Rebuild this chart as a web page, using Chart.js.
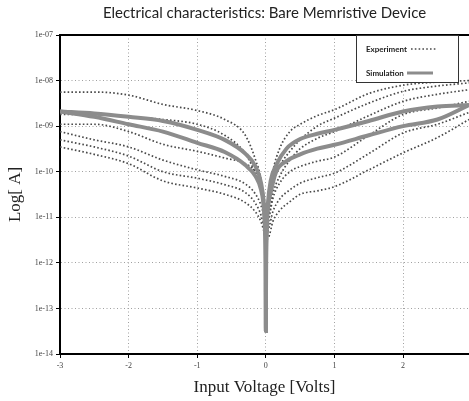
<!DOCTYPE html>
<html>
<head>
<meta charset="utf-8">
<title>Electrical characteristics: Bare Memristive Device</title>
<script src="https://cdn.jsdelivr.net/npm/chart.js@4.4.0/dist/chart.umd.min.js"></script>
<style>
  html, body { margin: 0; padding: 0; background: #fff; }
  #wrap { position: relative; width: 469px; height: 401px; }
</style>
</head>
<body>
<div id="wrap"><canvas id="ivChart"></canvas></div>
<script>
const titleText = "Electrical characteristics: Bare Memristive Device";
const xTicks = [-3, -2, -1, 0, 1, 2];
const yTicks = [1e-14, 1e-13, 1e-12, 1e-11, 1e-10, 1e-9, 1e-8, 1e-7];

// measured sweeps (current in A), all on the same voltage grid
const voltage = [-3, -2.5, -2, -1.5, -1, -0.6, -0.3, -0.15, -0.07, -0.03, 0,
                 0.05, 0.1, 0.2, 0.35, 0.5, 0.75, 1, 1.5, 2, 2.5, 2.96];
const exp1 = [5.6e-9, 5.6e-9, 4.8e-9, 3.0e-9, 2.2e-9, 1.4e-9, 6.3e-10, 1.8e-10, 6.3e-11, 1.6e-11, 5.0e-12,
              3.2e-11, 1.0e-10, 3.2e-10, 7.6e-10, 1.1e-9, 1.7e-9, 2.3e-9, 5.2e-9, 7.9e-9, 9.3e-9, 1.0e-8];
const exp2 = [1.8e-9, 1.8e-9, 1.6e-9, 1.4e-9, 1.1e-9, 6.3e-10, 2.5e-10, 8.9e-11, 4.0e-11, 1.3e-11, 4.0e-12,
              2.0e-11, 5.0e-11, 1.3e-10, 2.8e-10, 5.0e-10, 1.0e-9, 1.5e-9, 3.2e-9, 5.8e-9, 7.6e-9, 8.9e-9];
const exp3 = [1.1e-9, 1.1e-9, 7.6e-10, 4.0e-10, 2.8e-10, 2.0e-10, 1.5e-10, 1.0e-10, 5.6e-11, 2.0e-11, 6.3e-12,
              1.3e-11, 3.2e-11, 7.9e-11, 1.8e-10, 3.2e-10, 5.4e-10, 7.6e-10, 1.7e-9, 3.5e-9, 5.0e-9, 6.3e-9];
const exp4 = [7.6e-10, 5.0e-10, 3.5e-10, 1.8e-10, 1.1e-10, 7.9e-11, 5.4e-11, 3.2e-11, 1.8e-11, 1.0e-11, 3.2e-12,
              1.0e-11, 2.5e-11, 5.6e-11, 1.0e-10, 1.3e-10, 1.7e-10, 2.1e-10, 6.3e-10, 1.8e-9, 2.5e-9, 3.5e-9];
const exp5 = [5.0e-10, 3.5e-10, 2.2e-10, 1.0e-10, 7.2e-11, 5.2e-11, 3.5e-11, 2.0e-11, 1.1e-11, 6.3e-12, 4.0e-12,
              6.3e-12, 1.3e-11, 2.5e-11, 4.0e-11, 5.6e-11, 7.4e-11, 9.3e-11, 2.5e-10, 7.1e-10, 1.1e-9, 2.0e-9];
const exp6 = [3.5e-10, 2.4e-10, 1.5e-10, 6.3e-11, 4.4e-11, 3.2e-11, 2.1e-11, 1.3e-11, 7.9e-12, 5.0e-12, 3.2e-12,
              4.0e-12, 7.9e-12, 1.4e-11, 2.2e-11, 3.2e-11, 3.8e-11, 4.7e-11, 1.1e-10, 2.6e-10, 5.6e-10, 1.4e-9];

// simulated loop (two branches)
const simVoltage = [-3, -2.5, -2, -1.5, -1, -0.6, -0.3, -0.15, -0.07, -0.03, -0.01, -0.003, 0,
                    0.003, 0.01, 0.03, 0.07, 0.15, 0.3, 0.5, 0.75, 1, 1.5, 2, 2.5, 2.96];
const simUpper = [2.1e-9, 1.9e-9, 1.6e-9, 1.3e-9, 8.3e-10, 5.0e-10, 2.5e-10, 1.3e-10, 5.6e-11, 2.0e-11, 5.0e-12, 1.0e-12, 3.2e-14,
                  1.0e-12, 5.0e-12, 2.0e-11, 6.3e-11, 1.4e-10, 3.2e-10, 5.2e-10, 6.8e-10, 8.3e-10, 1.3e-9, 2.1e-9, 2.7e-9, 2.9e-9];
const simLower = [2.1e-9, 1.6e-9, 1.1e-9, 7.6e-10, 4.3e-10, 2.7e-10, 1.4e-10, 7.9e-11, 4.0e-11, 1.6e-11, 4.0e-12, 7.9e-13, 3.2e-14,
                  7.9e-13, 4.0e-12, 1.6e-11, 3.5e-11, 1.0e-10, 1.7e-10, 2.4e-10, 3.2e-10, 3.9e-10, 6.3e-10, 1.0e-9, 1.4e-9, 2.9e-9];

const expColor = '#4a4a4a';
const simColor = '#8c8c8c';
const expDash = [1.6, 2.2];

function pairs(xs, ys) {
    return xs.map((x, i) => ({ x: x, y: ys[i] }));
}

function simSet(values) {
    return {
        label: 'Simulation',
        data: pairs(simVoltage, values),
        borderColor: simColor,
        borderWidth: 4,
        pointRadius: 0,
        cubicInterpolationMode: 'monotone',
        fill: false
    };
}

function expSet(values) {
    return {
        label: 'Experiment',
        data: pairs(voltage, values),
        borderColor: expColor,
        borderWidth: 1.7,
        borderDash: expDash,
        pointRadius: 0,
        cubicInterpolationMode: 'monotone',
        fill: false
    };
}

// title centred over the plot area, top frame line, boxed legend
const decorations = {
    id: 'decorations',
    afterDraw(chart) {
        const { ctx, chartArea } = chart;
        ctx.save();
        ctx.fillStyle = '#222';
        ctx.font = '15px Lato';
        ctx.textAlign = 'center';
        ctx.textBaseline = 'middle';
        ctx.fillText(titleText, (chartArea.left + chartArea.right) / 2, 13);

        ctx.strokeStyle = '#000';
        ctx.lineWidth = 2;
        ctx.beginPath();
        ctx.moveTo(chartArea.left, chartArea.top);
        ctx.lineTo(chartArea.right, chartArea.top);
        ctx.stroke();

        const bx = chartArea.right - 113, by = chartArea.top, bw = 102, bh = 47;
        ctx.fillStyle = '#fff';
        ctx.fillRect(bx, by, bw, bh);
        ctx.strokeStyle = '#333';
        ctx.lineWidth = 1;
        ctx.strokeRect(bx + 0.5, by + 0.5, bw, bh);

        ctx.fillStyle = '#222';
        ctx.font = 'bold 8px Lato';
        ctx.textAlign = 'left';
        ctx.fillText('Experiment', bx + 10, by + 14);
        ctx.fillText('Simulation', bx + 10, by + 38);

        ctx.strokeStyle = expColor;
        ctx.lineWidth = 1.7;
        ctx.setLineDash(expDash);
        ctx.beginPath();
        ctx.moveTo(bx + 55, by + 14);
        ctx.lineTo(bx + 81, by + 14);
        ctx.stroke();
        ctx.setLineDash([]);

        ctx.strokeStyle = simColor;
        ctx.lineWidth = 3;
        ctx.beginPath();
        ctx.moveTo(bx + 51, by + 38);
        ctx.lineTo(bx + 77, by + 38);
        ctx.stroke();
        ctx.restore();
    }
};

const tickFont = { family: 'Liberation Serif', size: 8 };

new Chart(document.getElementById('ivChart'), {
    type: 'line',
    data: {
        datasets: [
            simSet(simUpper),
            simSet(simLower),
            expSet(exp1), expSet(exp2), expSet(exp3),
            expSet(exp4), expSet(exp5), expSet(exp6)
        ]
    },
    options: {
        responsive: true,
        maintainAspectRatio: false,
        animation: false,
        layout: { padding: { top: 35, left: 0, right: 0, bottom: 0 } },
        plugins: {
            legend: { display: false },
            title: { display: false },
            tooltip: { enabled: false }
        },
        scales: {
            x: {
                type: 'linear',
                min: -3,
                max: 2.96,
                afterBuildTicks: s => { s.ticks = xTicks.map(v => ({ value: v })); },
                afterFit: s => { s.height = 47; },
                ticks: {
                    font: tickFont, color: '#444', padding: 3, maxRotation: 0,
                    callback: v => String(v)
                },
                grid: { color: '#a0a0a0', lineWidth: 1, tickLength: 4, tickColor: '#000' },
                border: { color: '#000', width: 2, dash: [1, 2.5] },
                title: {
                    display: true, text: 'Input Voltage [Volts]', color: '#222',
                    font: { family: 'Liberation Serif', size: 17 },
                    padding: { top: 0, bottom: 3 }
                }
            },
            y: {
                type: 'logarithmic',
                min: 1e-14,
                max: 1e-7,
                afterBuildTicks: s => { s.ticks = yTicks.map(v => ({ value: v })); },
                afterFit: s => { s.width = 60; },
                ticks: {
                    font: tickFont, color: '#444', padding: 3,
                    callback: v => '1e-' + String(-Math.round(Math.log10(v))).padStart(2, '0')
                },
                grid: { color: '#a0a0a0', lineWidth: 1, tickLength: 4, tickColor: '#000' },
                border: { color: '#000', width: 2, dash: [1, 2.5] },
                title: {
                    display: true, text: 'Log[ A]', color: '#222',
                    font: { family: 'Liberation Serif', size: 17 },
                    padding: { top: 5, bottom: 0 }
                }
            }
        }
    },
    plugins: [decorations]
});
</script>
</body>
</html>
